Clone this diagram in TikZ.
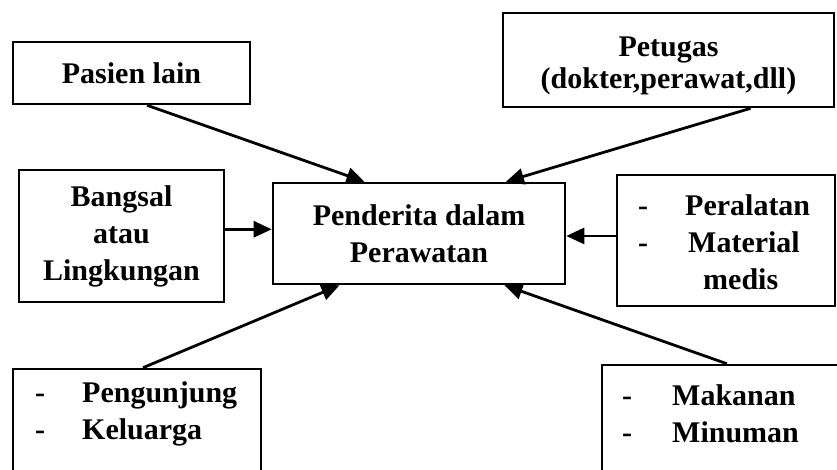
\documentclass[tikz,border=0pt]{standalone}
\usepackage{fontspec}
\setmainfont{Liberation Serif}
\usetikzlibrary{arrows.meta,calc}
\begin{document}
\begin{tikzpicture}[x=1pt,y=-1pt,
  box/.style={draw,line width=2.6pt,inner sep=0pt,align=center},
  txt/.style={font=\bfseries\fontsize{30}{37}\selectfont},
  lst/.style={font=\bfseries\fontsize{30}{37}\selectfont,inner sep=0pt,anchor=base west},
  arr/.style={line width=2.8pt,-{Triangle[length=18pt,width=16pt]}}]
\useasboundingbox (0,0) rectangle (837,469);
% boxes
\node[box,txt,minimum width=237pt,minimum height=62pt] (pasien) at (131.5,73) {Pasien lain};
\node[box,minimum width=331pt,minimum height=94pt] (petugas) at (668.5,60) {};
\node[font=\bfseries\fontsize{30}{32}\selectfont,align=center,inner sep=0pt] (petugastxt) at (668.5,66) {Petugas\\(dokter,perawat,dll)};
\node[box,txt,minimum width=205pt,minimum height=132pt] (bangsal) at (121.5,236) {Bangsal\\atau\\Lingkungan};
\node[box,txt,minimum width=292pt,minimum height=101pt] (pend) at (419,233.5) {Penderita dalam\\Perawatan};
\node[box,minimum width=218pt,minimum height=131pt] (peral) at (726,240.5) {};
\node[box,minimum width=248pt,minimum height=151pt] (peng) at (137,444.5) {};
\node[box,minimum width=258pt,minimum height=155pt] (makan) at (731,442.5) {};
% list texts
\node[lst] (peraltxt) at (638,215) {\begin{tabular}[t]{@{}l@{\hspace{37pt}}l@{}}-&Peralatan\\-&\hspace{3pt}Material\\&\hspace{18pt}medis\end{tabular}};
\node[lst] (pengtxt) at (35,402) {\begin{tabular}[t]{@{}l@{\hspace{37pt}}l@{}}-&Pengunjung\\-&Keluarga\end{tabular}};
\node[lst] (makantxt) at (622,405) {\begin{tabular}[t]{@{}l@{\hspace{40pt}}l@{}}-&Makanan\\-&Minuman\end{tabular}};
% connectors
\coordinate (a1) at ($(pasien.south west)!0.565!(pasien.south east)$);
\coordinate (a2) at ($(pend.north west)!0.315!(pend.north east)$);
\draw[arr] (a1) -- (a2);
\coordinate (b1) at ($(petugas.south west)!0.746!(petugas.south east)$);
\coordinate (b2) at ($(pend.north west)!0.795!(pend.north east)$);
\draw[arr] (b1) -- (b2);
\coordinate (c1) at ($(bangsal.north east)!0.45!(bangsal.south east)$);
\draw[arr] (c1) -- (c1 -| pend.west);
\coordinate (d1) at ($(peral.north west)!0.466!(peral.south west)$);
\draw[arr] (d1) -- (d1 -| pend.east);
\coordinate (e1) at ($(peng.north west)!0.524!(peng.north east)$);
\coordinate (e2) at ($(pend.south west)!0.23!(pend.south east)$);
\draw[arr] (e1) -- (e2);
\coordinate (f1) at ($(makan.north west)!0.484!(makan.north east)$);
\coordinate (f2) at ($(pend.south west)!0.79!(pend.south east)$);
\draw[arr] (f1) -- (f2);
\end{tikzpicture}
\end{document}
